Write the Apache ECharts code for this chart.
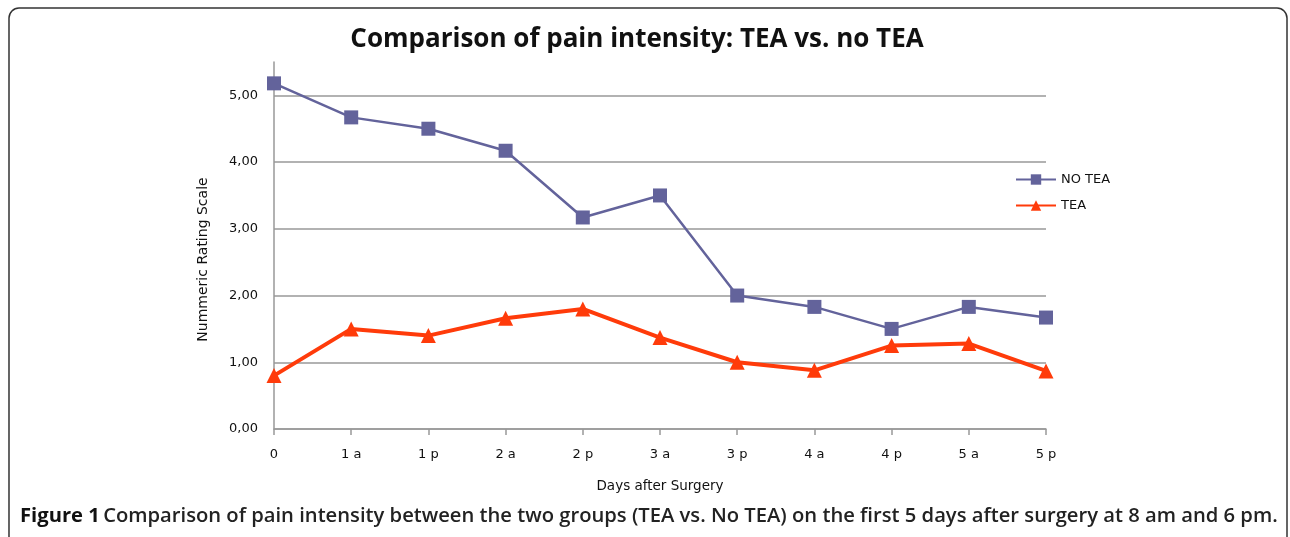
<!DOCTYPE html>
<html>
<head>
<meta charset="utf-8">
<script src="https://cdn.jsdelivr.net/npm/echarts@6/dist/echarts.min.js"></script>
<style>
  html, body { margin: 0; padding: 0; background: #fff; }
  #chart { width: 1290px; height: 537px; }
</style>
</head>
<body>
<div id="chart"></div>
<script>
// x categories: day + am/pm
const days = ['0', '1 a', '1 p', '2 a', '2 p', '3 a', '3 p', '4 a', '4 p', '5 a', '5 p']
const noTea = [5.18, 4.67, 4.5, 4.17, 3.17, 3.5, 2.0, 1.83, 1.5, 1.83, 1.67]
const tea = [0.8, 1.5, 1.4, 1.66, 1.8, 1.37, 1.0, 0.88, 1.25, 1.28, 0.87]

const chart = echarts.init(document.getElementById('chart'))

const axisFont = "'DejaVu Sans', Verdana, sans-serif"

chart.setOption({
  animation: false,
  title: {
    text: 'Comparison of pain intensity: TEA vs. no TEA',
    left: 632,
    textAlign: 'center',
    top: 22,
    textStyle: { fontFamily: 'Open Sans', fontWeight: 'bold', fontSize: 26, color: '#111' }
  },
  legend: {
    orient: 'vertical',
    left: 1010,
    top: 168,
    itemWidth: 40,
    itemHeight: 13,
    itemGap: 13,
    textStyle: { fontFamily: axisFont, fontSize: 13, color: '#111' },
    data: ['NO TEA', 'TEA']
  },
  grid: { left: 274, right: 244, top: 62, bottom: 108 },
  xAxis: {
    type: 'category',
    data: days,
    boundaryGap: false,
    name: 'Days after Surgery',
    nameLocation: 'middle',
    nameGap: 50,
    nameTextStyle: { fontFamily: axisFont, fontSize: 13.5, color: '#111' },
    axisLine: { lineStyle: { color: '#999', width: 1.5 } },
    axisTick: { show: true, length: 6, lineStyle: { color: '#999', width: 1.5 } },
    axisLabel: { fontFamily: axisFont, fontSize: 13, color: '#111', margin: 19 }
  },
  yAxis: {
    type: 'value',
    min: 0,
    max: 5.5,
    interval: 1,
    name: 'Nummeric Rating Scale',
    nameLocation: 'middle',
    nameGap: 64,
    nameTextStyle: { fontFamily: axisFont, fontSize: 14, color: '#111', padding: [0, 28, 0, 0] },
    axisLine: { show: true, lineStyle: { color: '#999', width: 1.5 } },
    axisTick: { show: false },
    axisLabel: {
      fontFamily: axisFont, fontSize: 13, color: '#111', margin: 16,
      showMaxLabel: false,
      formatter: v => (v % 1 === 0 ? v.toFixed(2).replace('.', ',') : '')
    },
    splitLine: { show: true, showMaxLine: false, lineStyle: { color: '#999', width: 1.5 } }
  },
  series: [
    {
      name: 'NO TEA',
      type: 'line',
      data: noTea,
      symbol: 'rect',
      symbolSize: 14,
      lineStyle: { color: '#63639b', width: 2.5 },
      itemStyle: { color: '#63639b' }
    },
    {
      name: 'TEA',
      type: 'line',
      data: tea,
      symbol: 'triangle',
      symbolSize: 15,
      lineStyle: { color: '#ff3b0a', width: 4 },
      itemStyle: { color: '#ff3b0a' }
    }
  ],
  graphic: [
    {
      type: 'rect',
      shape: { x: 9, y: 8, width: 1278, height: 560, r: 10 },
      style: { fill: 'none', stroke: '#333', lineWidth: 1.5 },
      silent: true
    },
    {
      type: 'text',
      left: 20,
      top: 506,
      style: {
        text: '{b|Figure 1} {n|Comparison of pain intensity between the two groups (TEA vs. No TEA) on the first 5 days after surgery at 8 am and 6 pm.}',
        rich: {
          b: { fontFamily: 'Open Sans', fontWeight: 'bold', fontSize: 20.2, fill: '#111' },
          n: { fontFamily: 'Open Sans', fontWeight: 600, fontSize: 20.2, fill: '#222' }
        }
      }
    }
  ]
})
</script>
</body>
</html>
